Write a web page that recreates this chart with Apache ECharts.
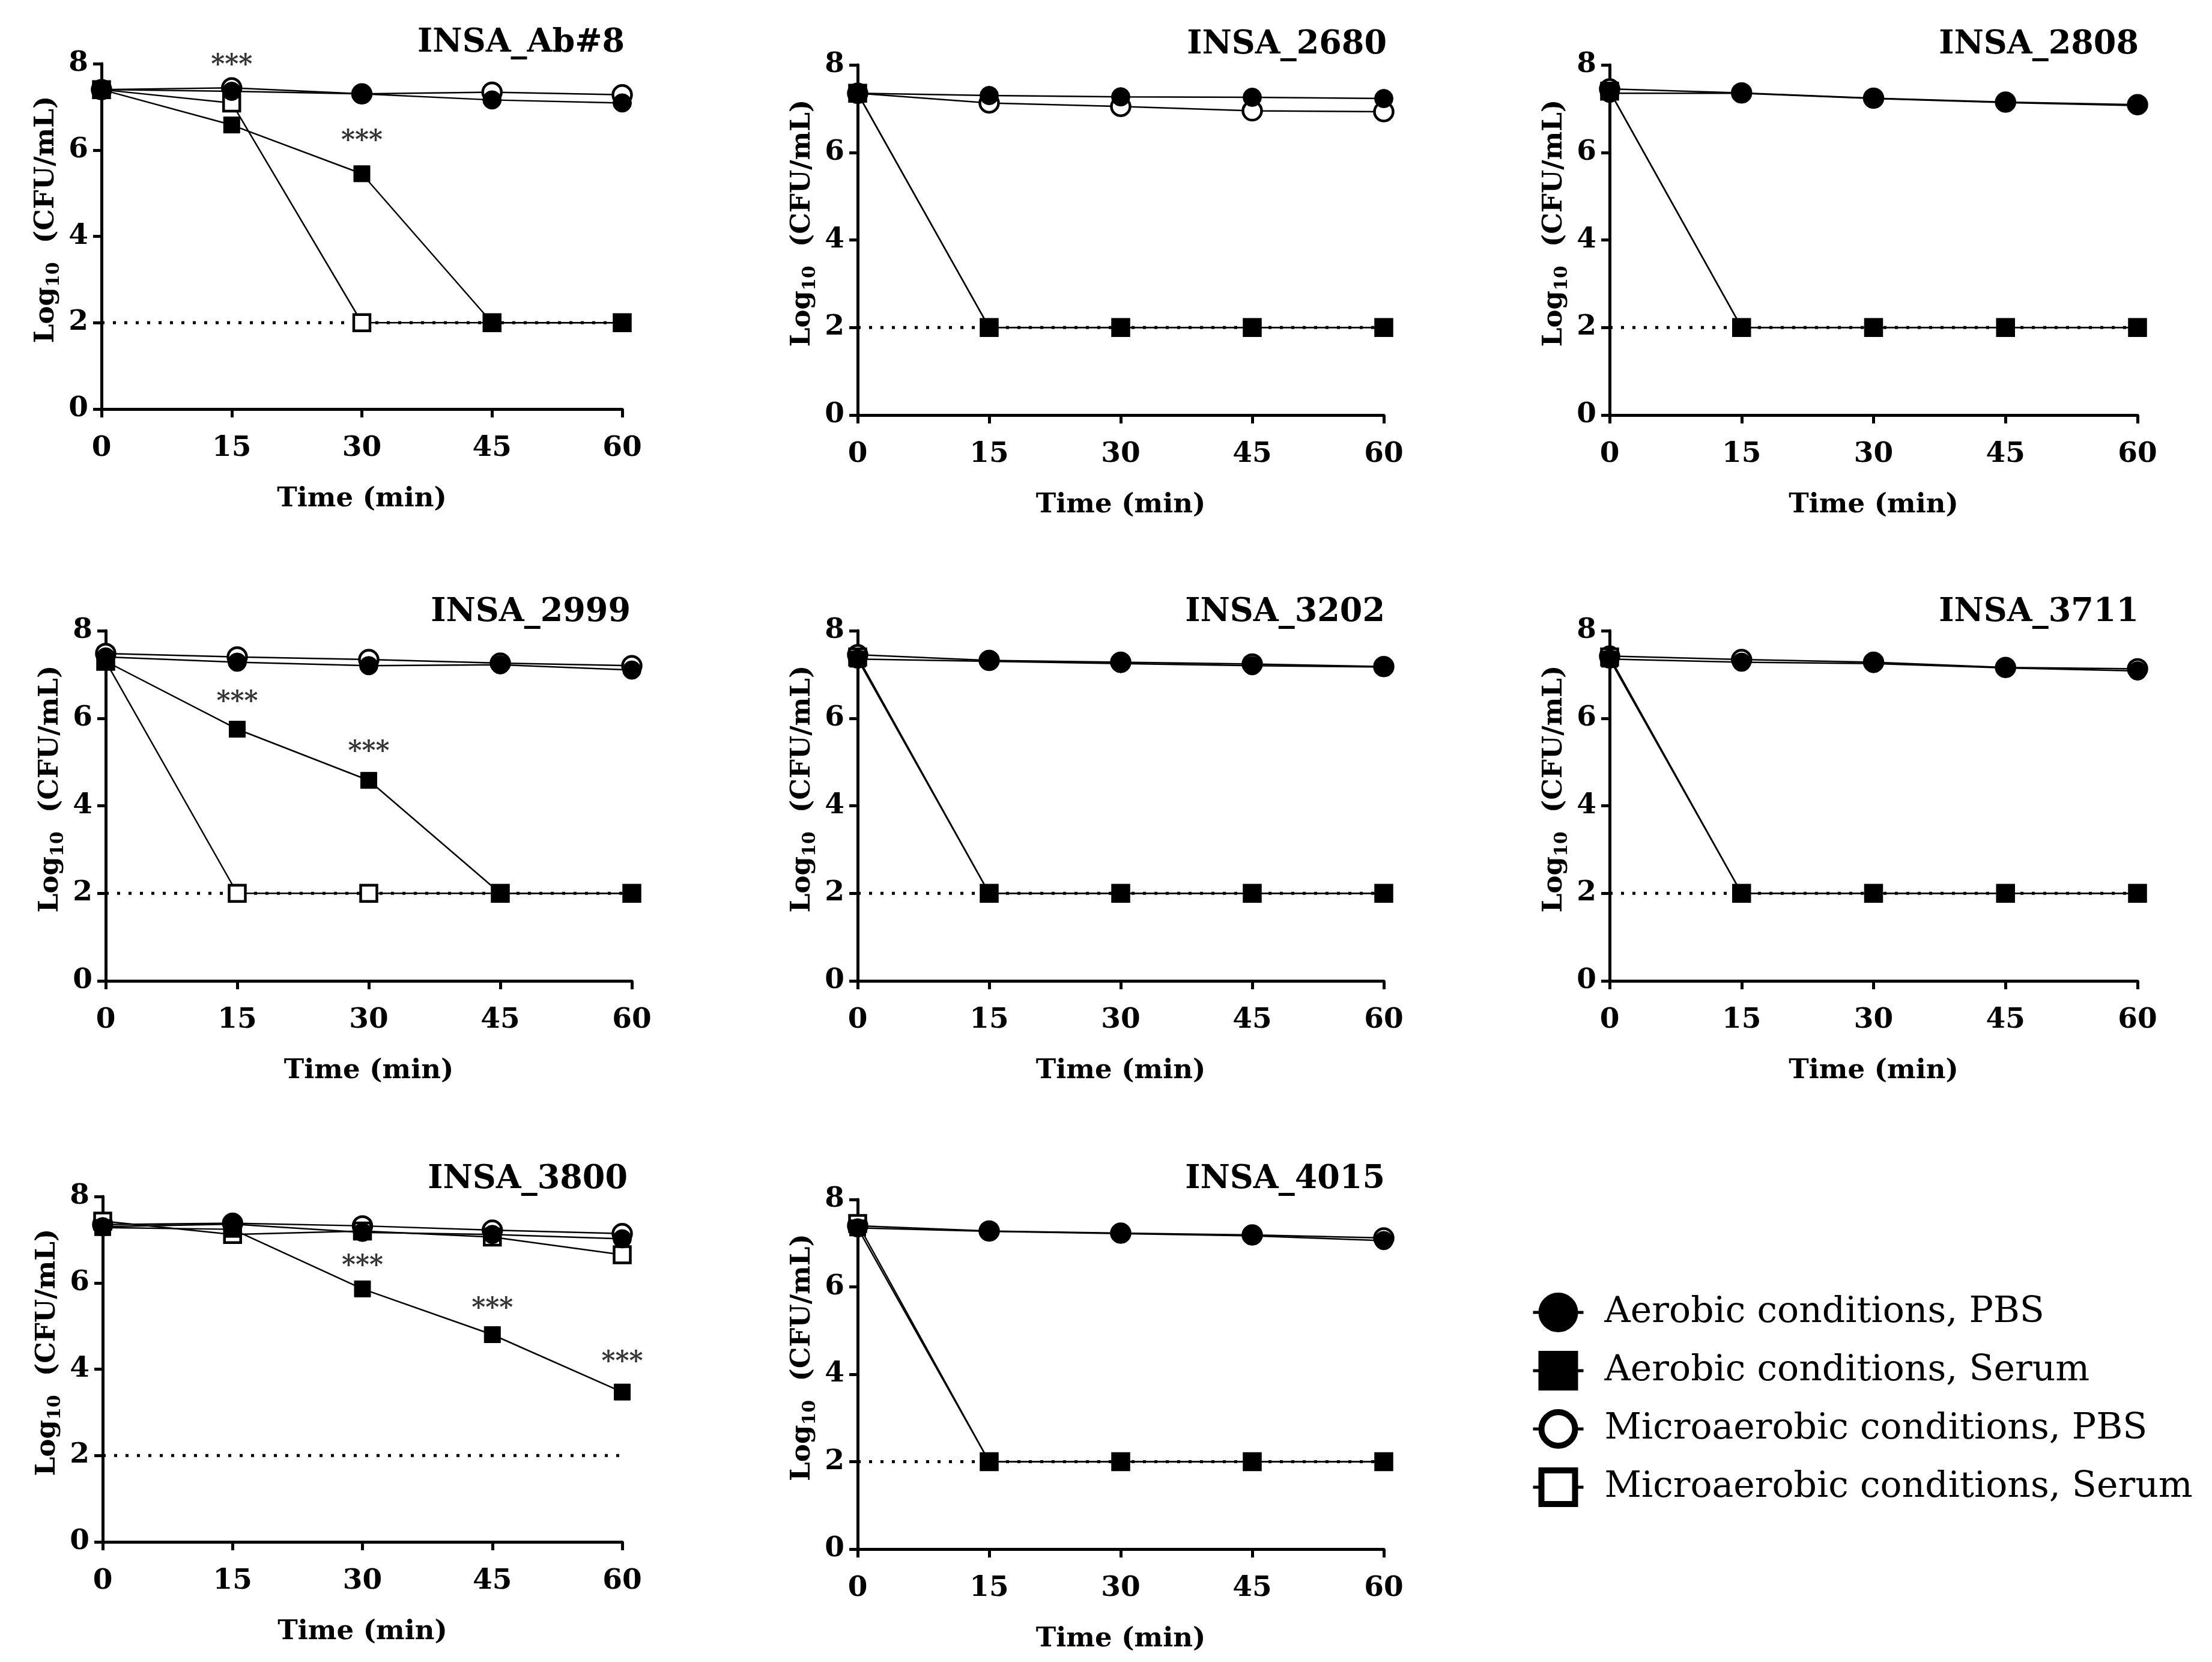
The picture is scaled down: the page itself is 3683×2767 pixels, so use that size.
<!DOCTYPE html>
<html>
<head>
<meta charset="utf-8">
<script src="https://cdn.jsdelivr.net/npm/echarts@6/dist/echarts.min.js"></script>
<style>
  html, body { margin: 0; padding: 0; background: #fff; }
  #main { width: 3683px; height: 2767px; }
</style>
</head>
<body>
<div id="main"></div>
<script>
// sampling times (min) and strains, one row per panel
var times = [0, 15, 30, 45, 60];
var strains = ['INSA_Ab#8', 'INSA_2680', 'INSA_2808', 'INSA_2999', 'INSA_3202', 'INSA_3711', 'INSA_3800', 'INSA_4015'];

var aerobicPBS = [
  [7.40, 7.36, 7.30, 7.16, 7.09],
  [7.35, 7.30, 7.27, 7.26, 7.23],
  [7.35, 7.35, 7.23, 7.14, 7.07],
  [7.40, 7.28, 7.20, 7.22, 7.10],
  [7.35, 7.30, 7.25, 7.20, 7.17],
  [7.35, 7.28, 7.25, 7.15, 7.08],
  [7.30, 7.36, 7.17, 7.12, 7.02],
  [7.35, 7.27, 7.22, 7.17, 7.06]
];
var aerobicSerum = [
  [7.40, 6.58, 5.45, 2, 2],
  [7.35, 2, 2, 2, 2],
  [7.40, 2, 2, 2, 2],
  [7.30, 5.75, 4.58, 2, 2],
  [7.35, 2, 2, 2, 2],
  [7.35, 2, 2, 2, 2],
  [7.28, 7.24, 5.86, 4.80, 3.47],
  [7.35, 2, 2, 2, 2]
];
var microPBS = [
  [7.40, 7.44, 7.30, 7.34, 7.28],
  [7.35, 7.13, 7.05, 6.95, 6.93],
  [7.45, 7.36, 7.24, 7.15, 7.09],
  [7.48, 7.40, 7.34, 7.26, 7.20],
  [7.45, 7.32, 7.28, 7.24, 7.18],
  [7.42, 7.34, 7.28, 7.16, 7.13],
  [7.35, 7.38, 7.32, 7.22, 7.14],
  [7.40, 7.28, 7.23, 7.19, 7.12]
];
var microSerum = [
  [7.40, 7.09, 2, 2, 2],
  [7.35, 2, 2, 2, 2],
  [7.40, 2, 2, 2, 2],
  [7.30, 2, 2, 2, 2],
  [7.40, 2, 2, 2, 2],
  [7.40, 2, 2, 2, 2],
  [7.43, 7.12, 7.20, 7.06, 6.65],
  [7.45, 2, 2, 2, 2]
];
// "***" marks: time and height of the label
var sigTimes = [[15, 30], [], [], [15, 30], [], [], [30, 45, 60], []];
var sigY = [[7.94, 6.19], [], [], [6.34, 5.21], [], [], [6.37, 5.37, 4.14], []];
var detectionLimit = 2;
var yTicks = [0, 2, 4, 6, 8];
var xTicks = [0, 15, 30, 45, 60];

var seriesNames = ['Aerobic conditions, PBS', 'Aerobic conditions, Serum',
                   'Microaerobic conditions, PBS', 'Microaerobic conditions, Serum'];

// panel boxes [left, top, width, height] in px
var boxes = [
  [169, 106, 867, 575], [1428, 108, 876, 583], [2680, 108, 879, 583],
  [176, 1050, 876, 583], [1428, 1050, 876, 583], [2680, 1050, 879, 583],
  [171, 1992, 865, 575], [1428, 1997, 876, 582]
];
// title anchor [right, top]
var titlePos = [
  [2638, 40], [1369, 43], [117, 43],
  [2628, 988], [1372, 988], [117, 988],
  [2633, 1932], [1372, 1932]
];

var FONT = 'DejaVu Serif';
var BLACK = '#000';

function pairs(ys) {
  return times.map(function (t, i) { return [t, ys[i]]; });
}

var grids = [], xAxes = [], yAxes = [], titles = [], series = [];

strains.forEach(function (name, k) {
  var b = boxes[k];
  grids.push({ left: b[0], top: b[1], width: b[2], height: b[3] });
  titles.push({
    text: name, right: titlePos[k][0], top: titlePos[k][1],
    textStyle: { fontFamily: FONT, fontSize: 54, fontWeight: 'bold', color: BLACK }
  });
  xAxes.push({
    gridIndex: k, type: 'value', min: xTicks[0], max: xTicks[xTicks.length - 1], interval: 15,
    name: 'Time (min)', nameLocation: 'middle', nameGap: 128,
    nameTextStyle: { fontFamily: FONT, fontSize: 45, fontWeight: 'bold', color: BLACK },
    axisLine: { show: true, lineStyle: { color: BLACK, width: 5 } },
    axisTick: { show: true, length: 14, lineStyle: { color: BLACK, width: 5 } },
    axisLabel: { fontFamily: FONT, fontSize: 47, fontWeight: 'bold', color: BLACK, margin: 42 },
    splitLine: { show: false }
  });
  yAxes.push({
    gridIndex: k, type: 'value', min: yTicks[0], max: yTicks[yTicks.length - 1], interval: 2,
    name: '{b|Log}{s|10}{b|  (CFU/mL)}', nameLocation: 'middle', nameGap: 64,
    nameTextStyle: {
      fontFamily: FONT, fontSize: 45, fontWeight: 'bold', color: BLACK, padding: [0, 0, 0, 56],
      rich: {
        b: { fontFamily: FONT, fontSize: 45, fontWeight: 'bold', color: BLACK, lineHeight: 56 },
        s: { fontFamily: FONT, fontSize: 30, fontWeight: 'bold', color: BLACK, verticalAlign: 'bottom', lineHeight: 56, padding: [17, 0, 0, 0] }
      }
    },
    axisLine: { show: true, lineStyle: { color: BLACK, width: 5 } },
    axisTick: { show: true, length: 14, lineStyle: { color: BLACK, width: 5 } },
    axisLabel: { fontFamily: FONT, fontSize: 47, fontWeight: 'bold', color: BLACK, margin: 22 },
    splitLine: { show: false }
  });

  // detection limit
  series.push({
    type: 'line', xAxisIndex: k, yAxisIndex: k, silent: true, symbol: 'none',
    data: [[xTicks[0], detectionLimit], [xTicks[xTicks.length - 1], detectionLimit]],
    lineStyle: { color: BLACK, width: 5, type: [5, 14] }, z: 1
  });

  var common = { type: 'line', xAxisIndex: k, yAxisIndex: k, lineStyle: { color: BLACK, width: 2.5 } };
  series.push(Object.assign({}, common, {
    name: seriesNames[2], data: pairs(microPBS[k]), symbol: 'circle', symbolSize: 31,
    itemStyle: { color: '#fff', borderColor: BLACK, borderWidth: 4.5 }, z: 2
  }));
  series.push(Object.assign({}, common, {
    name: seriesNames[3], data: pairs(microSerum[k]), symbol: 'rect', symbolSize: 27,
    itemStyle: { color: '#fff', borderColor: BLACK, borderWidth: 4.5 }, z: 3
  }));
  series.push(Object.assign({}, common, {
    name: seriesNames[0], data: pairs(aerobicPBS[k]), symbol: 'circle', symbolSize: 31,
    itemStyle: { color: BLACK, borderColor: BLACK, borderWidth: 1 }, z: 4
  }));
  series.push(Object.assign({}, common, {
    name: seriesNames[1], data: pairs(aerobicSerum[k]), symbol: 'rect', symbolSize: 27,
    itemStyle: { color: BLACK, borderColor: BLACK, borderWidth: 1 }, z: 5
  }));

  if (sigTimes[k].length) {
    series.push({
      type: 'scatter', xAxisIndex: k, yAxisIndex: k, silent: true,
      data: sigTimes[k].map(function (t, i) { return [t, sigY[k][i]]; }),
      symbolSize: 1, itemStyle: { color: 'transparent' },
      label: { show: true, position: 'inside', formatter: '***',
               fontFamily: FONT, fontSize: 44, fontWeight: 'bold', color: BLACK },
      z: 6
    });
  }
});

var chart = echarts.init(document.getElementById('main'));
chart.setOption({
  backgroundColor: '#fff',
  animation: false,
  textStyle: { fontFamily: FONT, color: BLACK },
  title: titles,
  grid: grids,
  xAxis: xAxes,
  yAxis: yAxes,
  legend: {
    data: seriesNames,
    orient: 'vertical',
    left: 2545, top: 2147,
    itemWidth: 84, itemHeight: 70, itemGap: 31,
    selectedMode: false,
    lineStyle: { width: 5 },
    itemStyle: { borderWidth: 10 },
    textStyle: { fontFamily: FONT, fontSize: 60, color: BLACK, padding: [0, 0, 0, 30] }
  },
  series: series
});
</script>
</body>
</html>
